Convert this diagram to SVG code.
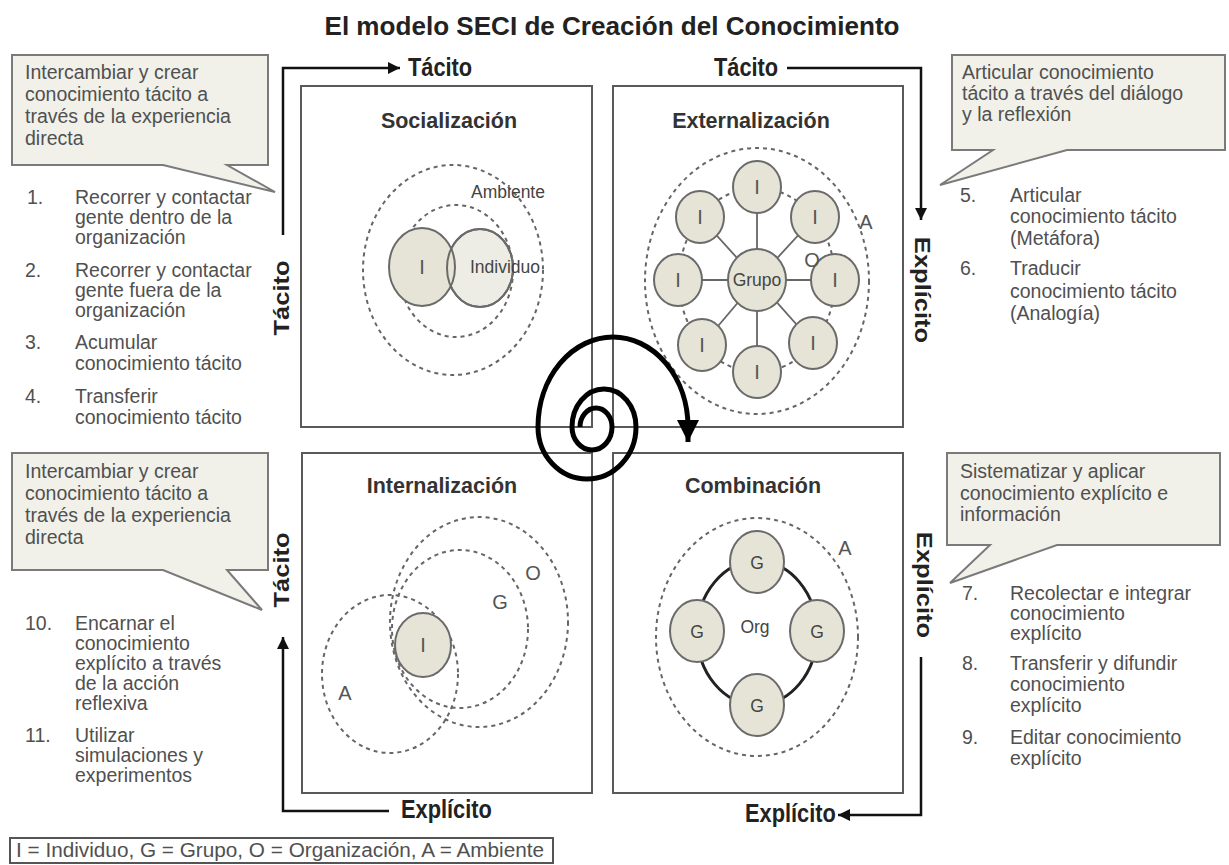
<svg xmlns="http://www.w3.org/2000/svg" width="1229" height="865" viewBox="0 0 1229 865">
  <style>
    .box { fill:#fff; stroke:#5a5a5a; stroke-width:2; }
    .dash { fill:none; stroke:#666; stroke-width:2; stroke-dasharray:4 4; }
    .node { fill:#e6e4d6; stroke:#6a6a6a; stroke-width:2; }
    .node2 { fill:#eeede5; stroke:#6a6a6a; stroke-width:2; }
    .edge { stroke:#666; stroke-width:1.8; fill:none; }
    .ring { fill:none; stroke:#222; stroke-width:3; }
    .call { fill:#f1f1ea; stroke:#7a7a7a; stroke-width:2; }
    .arrow { fill:none; stroke:#111; stroke-width:2.5; marker-end:url(#ah); }
    .spiral { fill:none; stroke:#000; stroke-width:5; marker-end:url(#sh); }
    .t { font-family:"Liberation Sans", Arial, sans-serif; font-size:19.5px; fill:#505050; }
    .b { font-family:"Liberation Sans", Arial, sans-serif; font-weight:bold; font-size:21.8px; fill:#222; }
    .h { font-family:"Liberation Sans", Arial, sans-serif; font-weight:bold; font-size:21.5px; fill:#333; text-anchor:middle; }
    .lbl { font-family:"Liberation Sans", Arial, sans-serif; font-size:17.5px; fill:#444; text-anchor:middle; }
    .ltr { font-family:"Liberation Sans", Arial, sans-serif; font-size:20px; fill:#555; text-anchor:middle; }
  </style>
  <defs>
    <marker id="ah" viewBox="0 0 10 10" refX="10" refY="5" markerWidth="12" markerHeight="12" markerUnits="userSpaceOnUse" orient="auto">
      <path d="M0,0 L10,5 L0,10 z" fill="#111"/>
    </marker>
    <marker id="sh" viewBox="0 0 10 10" refX="10" refY="5" markerWidth="22" markerHeight="22" markerUnits="userSpaceOnUse" orient="auto">
      <path d="M0,0 L10,5 L0,10 z" fill="#000"/>
    </marker>
  </defs>

  <rect width="1229" height="865" fill="#fff"/>

  <!-- title -->
  <text class="b" transform="translate(612 35) scale(1 1.17)" text-anchor="middle" font-size="22" textLength="575" lengthAdjust="spacingAndGlyphs">El modelo SECI de Creación del Conocimiento</text>

  <!-- Socialización -->
  <g id="socializacion">
    <rect class="box" x="301" y="86" width="291" height="341"/>
    <text class="h" x="449" y="128">Socialización</text>
    <ellipse class="dash" cx="453" cy="270" rx="90" ry="105"/>
    <ellipse class="dash" cx="456" cy="271" rx="57" ry="66"/>
    <ellipse class="node2" cx="480" cy="268" rx="33" ry="39"/>
    <ellipse class="node" cx="422" cy="267" rx="33" ry="39"/>
    <ellipse cx="480" cy="268" rx="33" ry="39" fill="none" stroke="#6a6a6a" stroke-width="2"/>
    <text class="ltr" x="422" y="274">I</text>
    <text class="lbl" x="505" y="273">Individuo</text>
    <text class="lbl" x="508" y="198">Ambiente</text>
  </g>

  <!-- Externalización -->
  <g id="externalizacion">
    <rect class="box" x="613" y="86" width="290" height="341"/>
    <text class="h" x="751" y="128">Externalización</text>
    <ellipse class="dash" cx="757" cy="281" rx="112" ry="133"/>
    <ellipse class="dash" cx="757" cy="280" rx="78" ry="92"/>
    <g class="edge">
      <line x1="757" y1="280" x2="757" y2="187"/>
      <line x1="757" y1="280" x2="815" y2="217"/>
      <line x1="757" y1="280" x2="835" y2="280"/>
      <line x1="757" y1="280" x2="813" y2="343"/>
      <line x1="757" y1="280" x2="757" y2="372"/>
      <line x1="757" y1="280" x2="702" y2="345"/>
      <line x1="757" y1="280" x2="678" y2="280"/>
      <line x1="757" y1="280" x2="700" y2="217"/>
    </g>
    <ellipse class="node" cx="757" cy="280" rx="29" ry="31"/>
    <ellipse class="node" cx="757" cy="187" rx="24" ry="26"/>
    <ellipse class="node" cx="815" cy="217" rx="24" ry="26"/>
    <ellipse class="node" cx="835" cy="280" rx="24" ry="26"/>
    <ellipse class="node" cx="813" cy="343" rx="24" ry="26"/>
    <ellipse class="node" cx="757" cy="372" rx="24" ry="26"/>
    <ellipse class="node" cx="702" cy="345" rx="24" ry="26"/>
    <ellipse class="node" cx="678" cy="280" rx="24" ry="26"/>
    <ellipse class="node" cx="700" cy="217" rx="24" ry="26"/>
    <text class="lbl" x="757" y="286">Grupo</text>
    <text class="ltr" x="757" y="194">I</text>
    <text class="ltr" x="815" y="224">I</text>
    <text class="ltr" x="835" y="287">I</text>
    <text class="ltr" x="813" y="350">I</text>
    <text class="ltr" x="757" y="379">I</text>
    <text class="ltr" x="702" y="352">I</text>
    <text class="ltr" x="678" y="287">I</text>
    <text class="ltr" x="700" y="224">I</text>
    <text class="ltr" x="812" y="267">O</text>
    <text class="ltr" x="866" y="229">A</text>
  </g>

  <!-- Internalización -->
  <g id="internalizacion">
    <rect class="box" x="302" y="453" width="290" height="340"/>
    <text class="h" x="442" y="493">Internalización</text>
    <ellipse class="dash" cx="390" cy="674" rx="68" ry="79"/>
    <ellipse class="dash" cx="479" cy="622" rx="89" ry="105"/>
    <ellipse class="dash" cx="460" cy="629" rx="68" ry="79"/>
    <ellipse class="node" cx="423" cy="645" rx="28" ry="32"/>
    <text class="ltr" x="423" y="652">I</text>
    <text class="ltr" x="533" y="580">O</text>
    <text class="ltr" x="500" y="609">G</text>
    <text class="ltr" x="345" y="700">A</text>
  </g>

  <!-- Combinación -->
  <g id="combinacion">
    <rect class="box" x="613" y="453" width="290" height="340"/>
    <text class="h" x="753" y="493">Combinación</text>
    <ellipse class="dash" cx="757" cy="637" rx="101" ry="119"/>
    <ellipse class="ring" cx="757" cy="633" rx="60" ry="72"/>
    <ellipse class="node" cx="757" cy="562" rx="27" ry="31"/>
    <ellipse class="node" cx="697" cy="631" rx="27" ry="31"/>
    <ellipse class="node" cx="817" cy="631" rx="27" ry="31"/>
    <ellipse class="node" cx="757" cy="705" rx="27" ry="31"/>
    <text class="lbl" x="757" y="569">G</text>
    <text class="lbl" x="697" y="638">G</text>
    <text class="lbl" x="817" y="638">G</text>
    <text class="lbl" x="757" y="712">G</text>
    <text class="lbl" x="755" y="633">Org</text>
    <text class="ltr" x="845" y="555">A</text>
  </g>

  <!-- connectors: knowledge-conversion cycle -->
  <g id="connectors">
    <path class="arrow" d="M283 235 V68 H400"/>
    <path class="arrow" d="M787 68 H921 V220"/>
    <path class="arrow" d="M921 657 V815 H838"/>
    <path class="arrow" d="M389 811 H283 V637"/>
    <path class="spiral" d="M580 427 A16 19 0 0 1 612 427 A20 23 0 0 1 572 427 A32 38 0 0 1 636 427 A49 52 0 0 1 538 427 A75 90 0 0 1 688 427 L688 442"/>
  </g>

  <!-- axis labels -->
  <g id="axis-labels">
    <text class="b" transform="translate(408 76) scale(1 1.17)">Tácito</text>
    <text class="b" transform="translate(714 76) scale(1 1.17)">Tácito</text>
    <text class="b" transform="translate(915 290) scale(1 1.17) rotate(90)" text-anchor="middle">Explícito</text>
    <text class="b" transform="translate(917 585) scale(1 1.17) rotate(90)" text-anchor="middle">Explícito</text>
    <text class="b" transform="translate(289 298) scale(1 1.17) rotate(-90)" text-anchor="middle">Tácito</text>
    <text class="b" transform="translate(289 570) scale(1 1.17) rotate(-90)" text-anchor="middle">Tácito</text>
    <text class="b" transform="translate(745 822) scale(1 1.17)">Explícito</text>
    <text class="b" transform="translate(401 818) scale(1 1.17)">Explícito</text>
  </g>

  <!-- callouts -->
  <g id="callout-socializacion">
    <path class="call" d="M12 55 H268 V165 H227 L275 192 L163 165 H12 Z"/>
    <text class="t">
      <tspan x="25" y="79">Intercambiar y crear</tspan>
      <tspan x="25" y="101">conocimiento tácito a</tspan>
      <tspan x="25" y="123">través de la experiencia</tspan>
      <tspan x="25" y="145">directa</tspan>
    </text>
  </g>
  <g id="callout-externalizacion">
    <path class="call" d="M952 55 H1225 V150 H1067 L940 185 L993 150 H952 Z"/>
    <text class="t">
      <tspan x="962" y="79">Articular conocimiento</tspan>
      <tspan x="962" y="100">tácito a través del diálogo</tspan>
      <tspan x="962" y="121">y la reflexión</tspan>
    </text>
  </g>
  <g id="callout-internalizacion">
    <path class="call" d="M12 453 H268 V570 H227 L262 610 L163 570 H12 Z"/>
    <text class="t">
      <tspan x="25" y="478">Intercambiar y crear</tspan>
      <tspan x="25" y="500">conocimiento tácito a</tspan>
      <tspan x="25" y="522">través de la experiencia</tspan>
      <tspan x="25" y="544">directa</tspan>
    </text>
  </g>
  <g id="callout-combinacion">
    <path class="call" d="M947 453 H1220 V545 H1057 L950 583 L990 545 H947 Z"/>
    <text class="t">
      <tspan x="960" y="478">Sistematizar y aplicar</tspan>
      <tspan x="960" y="500">conocimiento explícito e</tspan>
      <tspan x="960" y="521">información</tspan>
    </text>
  </g>

  <!-- step lists -->
  <g id="steps-1-4">
    <text class="t">
      <tspan x="27" y="204">1.</tspan><tspan x="75" y="204">Recorrer y contactar</tspan>
      <tspan x="75" y="224">gente dentro de la</tspan>
      <tspan x="75" y="244">organización</tspan>
      <tspan x="25" y="277">2.</tspan><tspan x="75" y="277">Recorrer y contactar</tspan>
      <tspan x="75" y="297">gente fuera de la</tspan>
      <tspan x="75" y="317">organización</tspan>
      <tspan x="25" y="349">3.</tspan><tspan x="75" y="349">Acumular</tspan>
      <tspan x="75" y="370">conocimiento tácito</tspan>
      <tspan x="25" y="403">4.</tspan><tspan x="75" y="403">Transferir</tspan>
      <tspan x="75" y="424">conocimiento tácito</tspan>
    </text>
  </g>
  <g id="steps-5-6">
    <text class="t">
      <tspan x="960" y="202">5.</tspan><tspan x="1010" y="202">Articular</tspan>
      <tspan x="1010" y="223">conocimiento tácito</tspan>
      <tspan x="1010" y="245">(Metáfora)</tspan>
      <tspan x="960" y="275">6.</tspan><tspan x="1010" y="275">Traducir</tspan>
      <tspan x="1010" y="298">conocimiento tácito</tspan>
      <tspan x="1010" y="320">(Analogía)</tspan>
    </text>
  </g>
  <g id="steps-7-9">
    <text class="t">
      <tspan x="962" y="600">7.</tspan><tspan x="1010" y="600">Recolectar e integrar</tspan>
      <tspan x="1010" y="620">conocimiento</tspan>
      <tspan x="1010" y="640">explícito</tspan>
      <tspan x="962" y="670">8.</tspan><tspan x="1010" y="670">Transferir y difundir</tspan>
      <tspan x="1010" y="691">conocimiento</tspan>
      <tspan x="1010" y="712">explícito</tspan>
      <tspan x="962" y="744">9.</tspan><tspan x="1010" y="744">Editar conocimiento</tspan>
      <tspan x="1010" y="765">explícito</tspan>
    </text>
  </g>
  <g id="steps-10-11">
    <text class="t">
      <tspan x="25" y="630">10.</tspan><tspan x="75" y="630">Encarnar el</tspan>
      <tspan x="75" y="650">conocimiento</tspan>
      <tspan x="75" y="670">explícito a través</tspan>
      <tspan x="75" y="690">de la acción</tspan>
      <tspan x="75" y="710">reflexiva</tspan>
      <tspan x="25" y="742">11.</tspan><tspan x="75" y="742">Utilizar</tspan>
      <tspan x="75" y="762">simulaciones y</tspan>
      <tspan x="75" y="782">experimentos</tspan>
    </text>
  </g>

  <!-- legend -->
  <g id="legend">
    <rect x="10" y="838" width="543" height="25" fill="#fff" stroke="#555" stroke-width="2"/>
    <text class="t" x="16" y="857" font-size="19" textLength="528" lengthAdjust="spacingAndGlyphs">I = Individuo, G = Grupo, O = Organización, A = Ambiente</text>
  </g>
</svg>
